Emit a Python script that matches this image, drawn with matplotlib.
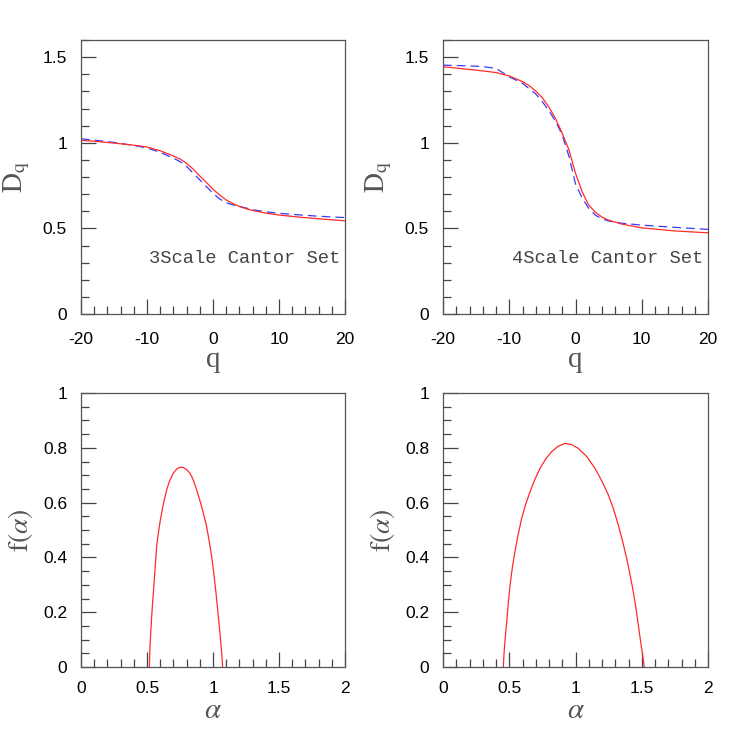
import matplotlib
matplotlib.use("Agg")
import matplotlib.pyplot as plt
from matplotlib.ticker import MultipleLocator

plt.rcParams['mathtext.fontset'] = 'stix'

# ---- data ----
q3_red = [-20, -18, -15, -12, -10, -8, -6, -5, -4, -3, -2, -1, 0, 1, 2, 3, 4, 5, 6, 8, 10, 13, 16, 20]
D3_red = [1.014, 1.009, 0.998, 0.986, 0.975, 0.953, 0.923, 0.905, 0.880, 0.846, 0.806, 0.768, 0.729,
          0.695, 0.666, 0.645, 0.628, 0.615, 0.605, 0.589, 0.578, 0.566, 0.556, 0.544]
q3_blue = [-20, -18, -15, -12, -10, -8, -6, -5, -4, -3, -2, -1, 0, 1, 2, 3, 4, 5, 6, 8, 10, 13, 16, 20]
D3_blue = [1.023, 1.015, 1.002, 0.984, 0.970, 0.944, 0.910, 0.890, 0.862, 0.822, 0.783, 0.744, 0.705,
           0.672, 0.650, 0.637, 0.628, 0.619, 0.609, 0.597, 0.588, 0.579, 0.571, 0.563]

q4_red = [-20, -15, -12, -10, -8, -7, -6, -5, -4, -3, -2, -1, 0, 1, 2, 3, 4, 5, 7, 10, 15, 20]
D4_red = [1.444, 1.424, 1.410, 1.390, 1.357, 1.334, 1.302, 1.262, 1.208, 1.140, 1.055, 0.960,
          0.822, 0.714, 0.636, 0.594, 0.566, 0.548, 0.525, 0.503, 0.485, 0.474]
q4_blue = [-20, -17, -14, -12, -11, -10, -8, -6, -5, -4, -3, -2, -1, 0, 1, 2, 3, 4, 5, 7, 10, 15, 20]
D4_blue = [1.453, 1.450, 1.445, 1.434, 1.410, 1.385, 1.347, 1.285, 1.240, 1.186, 1.125, 1.045,
           0.922, 0.760, 0.678, 0.617, 0.577, 0.556, 0.543, 0.530, 0.519, 0.506, 0.494]

a3 = [0.518, 0.520, 0.523, 0.528, 0.535, 0.541, 0.548, 0.556, 0.564, 0.573, 0.582, 0.592, 0.601,
      0.611, 0.620, 0.630, 0.640, 0.649, 0.660, 0.672, 0.685, 0.699, 0.715, 0.730, 0.747, 0.763,
      0.780, 0.795, 0.811, 0.826, 0.840, 0.852, 0.864, 0.876, 0.895, 0.914, 0.933, 0.952, 0.971,
      0.990, 1.007, 1.023, 1.036, 1.048, 1.058, 1.066, 1.070, 1.073]
f3 = [0.0, 0.035, 0.074, 0.125, 0.180, 0.225, 0.269, 0.325, 0.380, 0.439, 0.475, 0.508, 0.536,
      0.561, 0.585, 0.607, 0.628, 0.646, 0.663, 0.680, 0.694, 0.707, 0.717, 0.724, 0.728, 0.729,
      0.727, 0.722, 0.715, 0.707, 0.694, 0.680, 0.664, 0.646, 0.617, 0.585, 0.550, 0.512, 0.460,
      0.403, 0.338, 0.269, 0.207, 0.147, 0.095, 0.050, 0.025, 0.0]

a4 = [0.455, 0.460, 0.466, 0.473, 0.481, 0.493, 0.506, 0.524, 0.543, 0.568, 0.594, 0.625, 0.657,
      0.694, 0.732, 0.775, 0.820, 0.870, 0.921, 0.970, 1.021, 1.085, 1.147, 1.200, 1.248, 1.288,
      1.323, 1.356, 1.386, 1.412, 1.436, 1.457, 1.474, 1.488, 1.499, 1.510, 1.519]
f4 = [0.0, 0.045, 0.085, 0.125, 0.165, 0.235, 0.299, 0.365, 0.421, 0.485, 0.543, 0.595, 0.640,
      0.685, 0.725, 0.759, 0.786, 0.806, 0.816, 0.812, 0.798, 0.768, 0.725, 0.678, 0.628, 0.575,
      0.518, 0.458, 0.397, 0.336, 0.275, 0.212, 0.153, 0.105, 0.068, 0.032, 0.0]

labels_top = ["3Scale Cantor Set", "4Scale Cantor Set"]

# ---- figure ----
fig = plt.figure(figsize=(7.47, 7.47), dpi=100)
W = H = 747.0

def mk(l, r, t, b):
    return fig.add_axes([l / W, 1 - b / H, (r - l) / W, (b - t) / H])

ax_tl = mk(81, 345, 40, 314)
ax_tr = mk(443, 708, 40, 314)
ax_bl = mk(81, 345, 393, 667)
ax_br = mk(443, 708, 393, 667)

spine_col = '#555555'
label_col = '#555555'
label_font = 'Liberation Serif'

def style(ax, xpad):
    for s in ax.spines.values():
        s.set_color(spine_col)
        s.set_linewidth(0.9)
    ax.tick_params(which='both', direction='in', top=False, right=False,
                   color='#444444', width=0.9)
    ax.tick_params(which='major', length=11)
    ax.tick_params(which='minor', length=6)
    ax.tick_params(axis='x', which='major', pad=xpad)
    ax.tick_params(axis='y', which='major', pad=10)
    for lab in ax.get_xticklabels() + ax.get_yticklabels():
        lab.set_fontfamily('Liberation Sans')
        lab.set_fontsize(12.5)

for ax, qr, dr, qb, db, lab in [(ax_tl, q3_red, D3_red, q3_blue, D3_blue, labels_top[0]),
                                 (ax_tr, q4_red, D4_red, q4_blue, D4_blue, labels_top[1])]:
    ax.plot(qb, db, color='#3a3aff', lw=0.9, dashes=(7, 4))
    ax.plot(qr, dr, color='#ff2a2a', lw=0.9)
    ax.set_xlim(-20, 20)
    ax.set_ylim(0, 1.6)
    ax.xaxis.set_minor_locator(MultipleLocator(2))
    ax.yaxis.set_minor_locator(MultipleLocator(0.1))
    ax.set_xticks([-20, -10, 0, 10, 20])
    ax.set_xticklabels(['-20', '-10', '0', '10', '20'])
    ax.set_yticks([0, 0.5, 1, 1.5])
    ax.set_yticklabels(['0', '0.5', '1', '1.5'])
    style(ax, 13)
    ax.set_xlabel('q', fontfamily=label_font, fontsize=21, color=label_col, labelpad=0)
    ax.set_ylabel(r'$\mathrm{D_q}$', fontsize=20, color=label_col, labelpad=8)
    ax.text(0.982, 0.185, lab, transform=ax.transAxes, ha='right', va='baseline',
            fontfamily='Liberation Mono', fontsize=13.5, color='#444444')

for ax, a, f in [(ax_bl, a3, f3), (ax_br, a4, f4)]:
    ax.plot(a, f, color='#ff2a2a', lw=0.9)
    ax.set_xlim(0, 2)
    ax.set_ylim(0, 1)
    ax.xaxis.set_minor_locator(MultipleLocator(0.1))
    ax.yaxis.set_minor_locator(MultipleLocator(0.05))
    ax.set_xticks([0, 0.5, 1, 1.5, 2])
    ax.set_xticklabels(['0', '0.5', '1', '1.5', '2'])
    ax.set_yticks([0, 0.2, 0.4, 0.6, 0.8, 1])
    ax.set_yticklabels(['0', '0.2', '0.4', '0.6', '0.8', '1'])
    style(ax, 10)
    ax.set_xlabel(r'$\alpha$', fontsize=21, color=label_col, labelpad=0)
    ax.set_ylabel(r'$\mathrm{f(}\alpha\mathrm{)}$', fontsize=20, color=label_col, labelpad=6)

fig.savefig('out.png', dpi=100, facecolor='white')
